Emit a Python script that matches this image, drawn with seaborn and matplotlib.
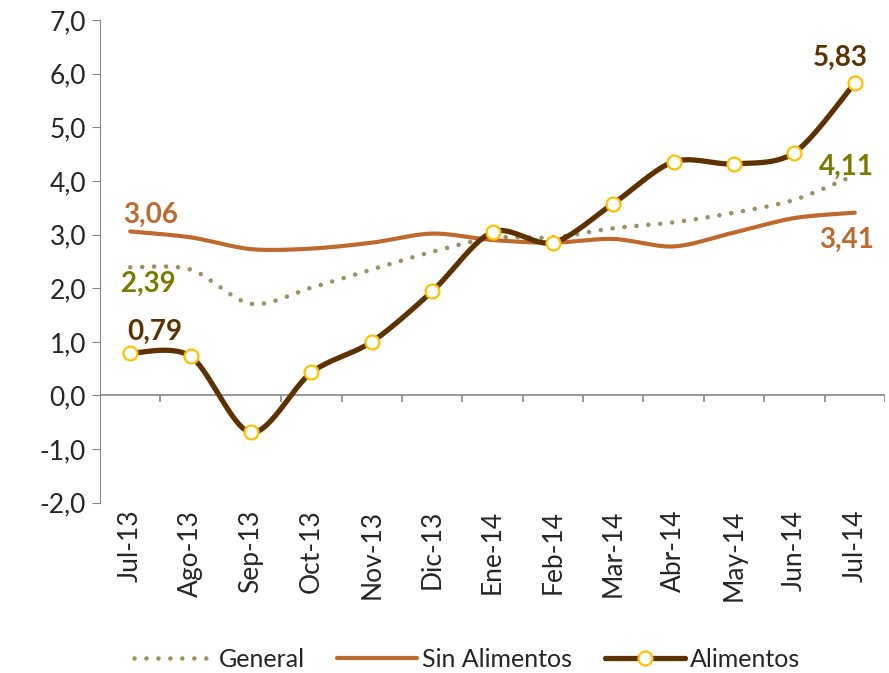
import numpy as np
import pandas as pd
import seaborn as sns
import matplotlib.pyplot as plt
from matplotlib.lines import Line2D

# Data
meses = ['Jul-13', 'Ago-13', 'Sep-13', 'Oct-13', 'Nov-13', 'Dic-13', 'Ene-14',
         'Feb-14', 'Mar-14', 'Abr-14', 'May-14', 'Jun-14', 'Jul-14']
general = [2.39, 2.35, 1.71, 2.01, 2.35, 2.68, 2.94, 2.95, 3.12, 3.23, 3.41, 3.65, 4.11]
sin_alimentos = [3.06, 2.95, 2.73, 2.74, 2.85, 3.02, 2.90, 2.85, 2.92, 2.78, 3.04, 3.31, 3.41]
alimentos = [0.79, 0.73, -0.69, 0.43, 1.00, 1.94, 3.05, 2.85, 3.58, 4.36, 4.32, 4.53, 5.83]

c_general = '#9A9262'
c_sin = '#BE6A2E'
c_alim = '#5E3200'
c_marker = '#FFC000'


def smooth(vals, n=30):
    # Catmull-Rom style smoothing like Excel's smoothed lines
    y = np.array(vals, dtype=float)
    x = np.arange(len(y), dtype=float)
    px = np.concatenate([[x[0]], x, [x[-1]]])
    py = np.concatenate([[y[0]], y, [y[-1]]])
    xs, ys = [], []
    for i in range(1, len(px) - 2):
        p0, p1, p2, p3 = py[i - 1], py[i], py[i + 1], py[i + 2]
        q0, q1, q2, q3 = px[i - 1], px[i], px[i + 1], px[i + 2]
        t = np.linspace(0, 1, n, endpoint=False)
        for a, b, c, d, out in ((q0, q1, q2, q3, xs), (p0, p1, p2, p3, ys)):
            m1 = (c - a) / 2 * 0.9
            m2 = (d - b) / 2 * 0.9
            h00 = 2 * t**3 - 3 * t**2 + 1
            h10 = t**3 - 2 * t**2 + t
            h01 = -2 * t**3 + 3 * t**2
            h11 = t**3 - t**2
            out.extend(h00 * b + h10 * m1 + h01 * c + h11 * m2)
    xs.append(x[-1])
    ys.append(y[-1])
    return np.array(xs), np.array(ys)


sns.set_style('white')
plt.rcParams['font.family'] = ['Lato', 'DejaVu Sans']

fig = plt.figure(figsize=(8.89, 6.73), dpi=100)
ax = fig.add_axes([0.1125, 0.253, 0.883, 0.717])

gx, gy = smooth(general)
sx, sy = smooth(sin_alimentos)
ax_, ay = smooth(alimentos)

sns.lineplot(x=gx, y=gy, ax=ax, color=c_general, lw=3.3, sort=False,
             linestyle=(0, (0.01, 2.6)), dash_capstyle='round')
sns.lineplot(x=sx, y=sy, ax=ax, color=c_sin, lw=3.0, sort=False,
             solid_capstyle='round')
sns.lineplot(x=ax_, y=ay, ax=ax, color=c_alim, lw=3.8, sort=False,
             solid_capstyle='round')
ax.plot(np.arange(len(meses)), alimentos, ls='none', marker='o', ms=10,
        mfc='white', mec=c_marker, mew=1.6, zorder=5)

# axes styling
ax.set_xlim(-0.5, len(meses) - 0.5)
ax.set_ylim(-2, 7)
ax.set_yticks(np.arange(-2, 8, 1))
ax.set_yticklabels([f'{v:.1f}'.replace('.', ',') for v in np.arange(-2, 8, 1)],
                   fontsize=19)
ax.set_xticks(np.arange(len(meses)))
ax.set_xticklabels(meses, rotation=90, fontsize=19)
ax.tick_params(axis='x', length=0, pad=5)
ax.tick_params(axis='y', length=6, color='#868686', direction='out', pad=4, left=True)
for s in ['top', 'right', 'bottom']:
    ax.spines[s].set_visible(False)
ax.spines['left'].set_color('#868686')
ax.axhline(0, color='#868686', lw=1.2, zorder=1)
ax.vlines(np.arange(-0.5, len(meses)), -0.12, 0, color='#868686', lw=1.2, zorder=1)

# data labels
lab = dict(fontsize=20, fontweight='bold', textcoords='offset pixels',
           ha='center', va='center')
ax.annotate('3,06', (0, sin_alimentos[0]), xytext=(20, 17), color=c_sin, **lab)
ax.annotate('2,39', (0, general[0]), xytext=(18, -17), color='#7A7A00', **lab)
ax.annotate('0,79', (0, alimentos[0]), xytext=(25, 21), color=c_alim, **lab)
ax.annotate('5,83', (12, alimentos[-1]), xytext=(-15, 25), color=c_alim, **lab)
ax.annotate('4,11', (12, general[-1]), xytext=(-8, 8), color='#7A7A00', **lab)
ax.annotate('3,41', (12, sin_alimentos[-1]), xytext=(-8, -27), color=c_sin, **lab)

handles = [
    Line2D([], [], color=c_general, lw=3.3, linestyle=(0, (0.01, 2.6)),
           dash_capstyle='round'),
    Line2D([], [], color=c_sin, lw=3.0),
    Line2D([], [], color=c_alim, lw=3.8, marker='o', ms=10, mfc='white',
           mec=c_marker, mew=1.6),
]
fig.legend(handles, ['General', 'Sin Alimentos', 'Alimentos'], loc='center',
           bbox_to_anchor=(0.525, 0.02), ncol=3, frameon=False, fontsize=18,
           handlelength=3.2, handletextpad=0.2, columnspacing=1.3)

fig.savefig('out.png', dpi=100)
